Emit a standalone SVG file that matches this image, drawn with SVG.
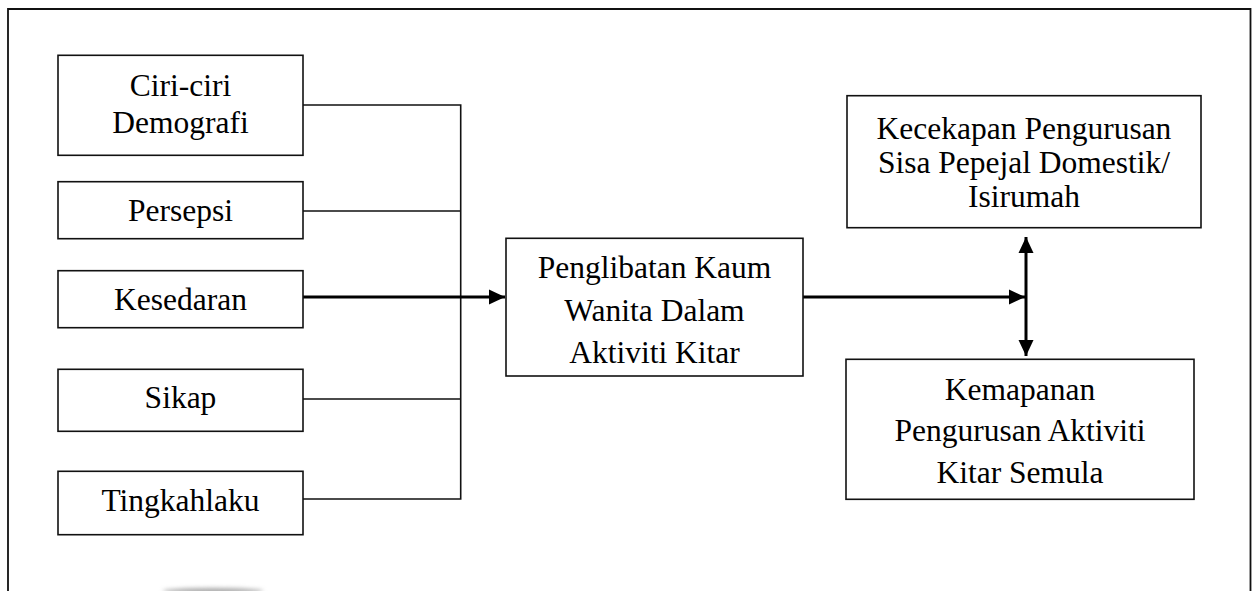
<svg xmlns="http://www.w3.org/2000/svg" width="1256" height="591" viewBox="0 0 1256 591">
<style>
.box{fill:#fff;stroke:#111;stroke-width:1.6}
.t{font-family:"Liberation Serif","Times New Roman",serif;font-size:31.5px;fill:#000;text-anchor:middle}
.thin{fill:none;stroke:#111;stroke-width:1.6}
.thick{fill:none;stroke:#000;stroke-width:3}
</style>
<defs>
<marker id="ah" markerUnits="userSpaceOnUse" markerWidth="16" markerHeight="16" viewBox="0 0 16 16" refX="16" refY="8" orient="auto-start-reverse">
<path d="M0,0.5 L16,8 L0,15.5 Z" fill="#000"/>
</marker>
<filter id="blur" x="-50%" y="-200%" width="200%" height="500%"><feGaussianBlur stdDeviation="2"/></filter>
</defs>
<rect width="1256" height="591" fill="#fff"/>
<path d="M8,591 V9 H1250.5 V591" fill="none" stroke="#111" stroke-width="1.8"/>
<ellipse cx="213" cy="591" rx="50" ry="3" fill="#aaa" filter="url(#blur)"/>

<g id="connectors">
<path class="thin" d="M303,105 H460.7 V499 H303 M303,211 H460.7 M303,399 H460.7"/>
<path class="thick" d="M303,297 H505" marker-end="url(#ah)"/>
<path class="thick" d="M803,297 H1025" marker-end="url(#ah)"/>
<path class="thick" d="M1026,237 V356" marker-start="url(#ah)" marker-end="url(#ah)"/>
</g>

<g id="n-ciri">
<rect class="box" x="58" y="55.3" width="245" height="100"/>
<text class="t" x="180.5" y="96">Ciri-ciri</text>
<text class="t" x="180.5" y="132.7">Demografi</text>
</g>
<g id="n-persepsi">
<rect class="box" x="58" y="181.7" width="245" height="57"/>
<text class="t" x="180.5" y="221">Persepsi</text>
</g>
<g id="n-kesedaran">
<rect class="box" x="58" y="270.7" width="245" height="57"/>
<text class="t" x="180.5" y="310">Kesedaran</text>
</g>
<g id="n-sikap">
<rect class="box" x="58" y="369.3" width="245" height="62"/>
<text class="t" x="180.5" y="408.3">Sikap</text>
</g>
<g id="n-tingkahlaku">
<rect class="box" x="58" y="471.3" width="245" height="63.4"/>
<text class="t" x="180.5" y="510.7">Tingkahlaku</text>
</g>
<g id="n-penglibatan">
<rect class="box" x="506" y="238.3" width="297" height="137.7"/>
<text class="t" x="654.5" y="278">Penglibatan Kaum</text>
<text class="t" x="654.5" y="320.5">Wanita Dalam</text>
<text class="t" x="654.5" y="363">Aktiviti Kitar</text>
</g>
<g id="n-kecekapan">
<rect class="box" x="847" y="95.7" width="354" height="132"/>
<text class="t" x="1024" y="138.5">Kecekapan Pengurusan</text>
<text class="t" x="1024" y="172.7">Sisa Pepejal Domestik/</text>
<text class="t" x="1024" y="207">Isirumah</text>
</g>
<g id="n-kemapanan">
<rect class="box" x="846" y="359.3" width="348" height="140"/>
<text class="t" x="1020" y="400">Kemapanan</text>
<text class="t" x="1020" y="441">Pengurusan Aktiviti</text>
<text class="t" x="1020" y="482.7">Kitar Semula</text>
</g>
</svg>
